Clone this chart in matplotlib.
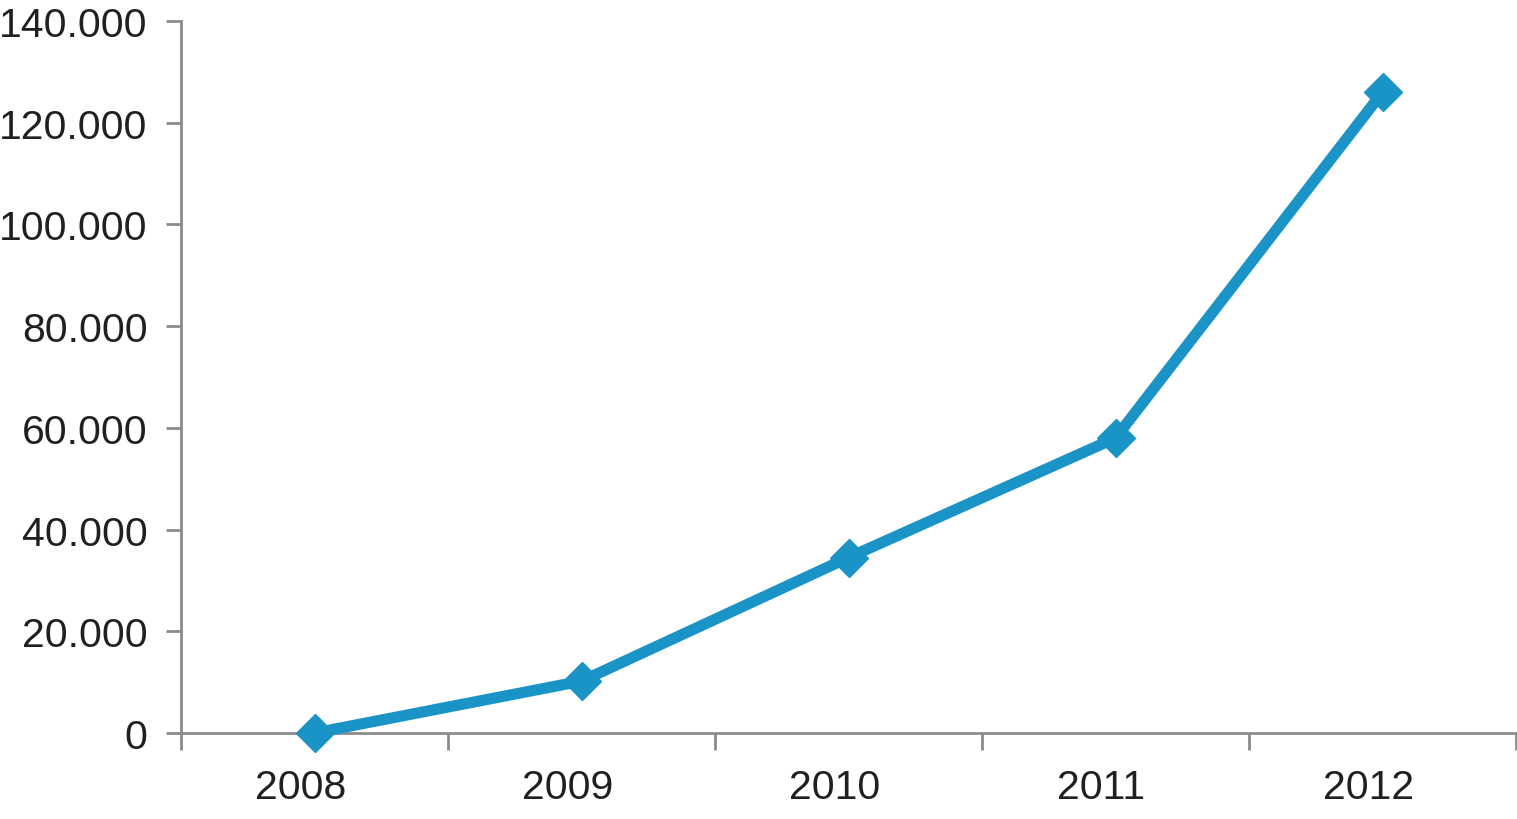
import numpy as np
import matplotlib.pyplot as plt
import matplotlib.transforms as mtransforms

years = ['2008', '2009', '2010', '2011', '2012']
values = [0, 10200, 34500, 58000, 126000]
y_ticks = [0, 20000, 40000, 60000, 80000, 100000, 120000, 140000]
y_labels = ['0', '20.000', '40.000', '60.000', '80.000', '100.000', '120.000', '140.000']

plt.rcParams['font.family'] = ['Liberation Sans', 'DejaVu Sans']

fig = plt.figure(figsize=(15.17, 8.2), dpi=100)
ax = fig.add_axes([181 / 1517, 86 / 820, 1335 / 1517, 712 / 820])

x = np.arange(len(years))
ax.plot(x, values, color='#1a94c6', lw=8, marker='D', ms=19, clip_on=False, zorder=3)

ax.set_xlim(-0.5, len(years) - 0.5)
ax.set_ylim(0, 140000)

# Kreski osi X na granicach kategorii, etykiety pod środkami
ax.set_xticks(np.arange(len(years) + 1) - 0.5, labels=[])
ax.set_xticks(x, labels=years, minor=True)
ax.tick_params(axis='x', which='major', length=12, width=2, color='#8c8c8c')
ax.tick_params(axis='x', which='minor', length=0, pad=25, labelsize=29.5, labelcolor='#231f20')

# etykiety lat lekko przesunięte w lewo, jak w oryginale
shift = mtransforms.ScaledTranslation(-14 / 100, 0, fig.dpi_scale_trans)
for lbl in ax.get_xticklabels(minor=True):
    lbl.set_transform(lbl.get_transform() + shift)

ax.set_yticks(y_ticks, labels=y_labels)
ax.tick_params(axis='y', length=11, width=2, color='#8c8c8c', pad=13, labelsize=29.5, labelcolor='#231f20')

for side in ['top', 'right']:
    ax.spines[side].set_visible(False)
for side in ['left', 'bottom']:
    ax.spines[side].set_color('#8c8c8c')
    ax.spines[side].set_linewidth(2)

fig.savefig('out.png', dpi=100)
